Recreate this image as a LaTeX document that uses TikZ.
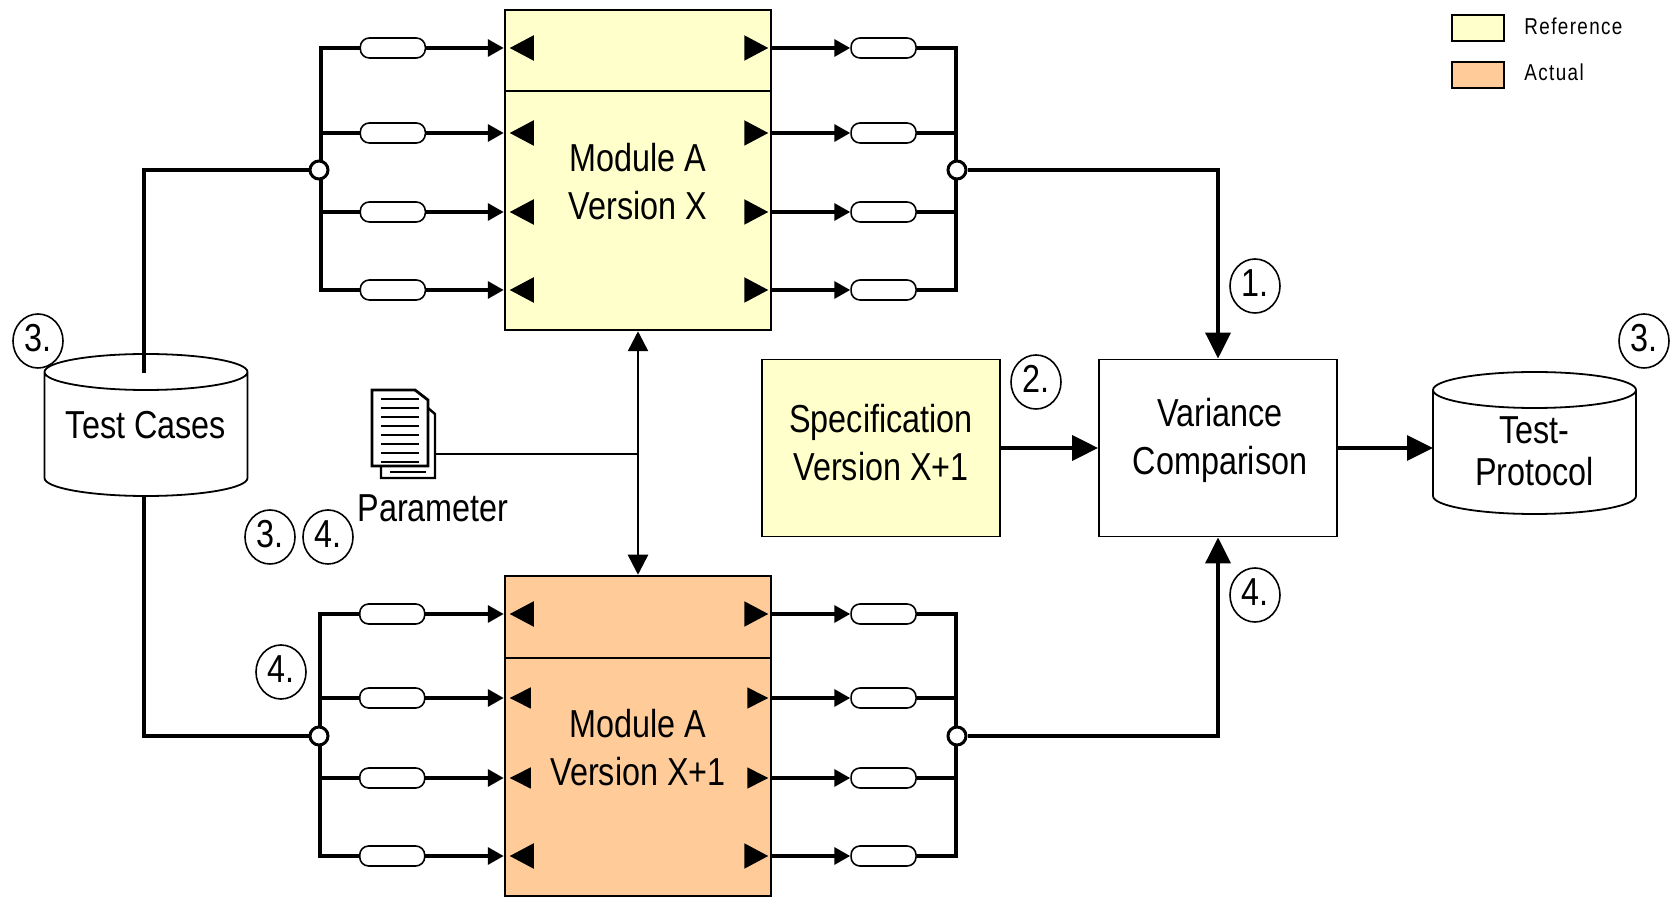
\documentclass[tikz,border=0pt]{standalone}
\usepackage{fontspec}
\setmainfont[FakeStretch=0.83]{Liberation Sans}
\newfontfamily\legendfont[FakeStretch=0.82,LetterSpace=6]{Liberation Sans}
\usetikzlibrary{arrows.meta,shapes.geometric}
\definecolor{refyellow}{RGB}{255,255,204}
\definecolor{actorange}{RGB}{255,204,153}

\begin{document}
\begin{tikzpicture}[x=0.5pt, y=-0.5pt,
  font=\fontsize{19.5}{24}\selectfont,
  >={Triangle[length=8pt, width=8.5pt]},
  block/.style={rectangle, draw, line width=1.25pt, align=center, inner sep=0pt},
  module/.style={block, minimum width=133pt, minimum height=160pt},
  wire/.style={line width=1.7pt},
  thinwire/.style={line width=1.3pt, >={Triangle[length=10pt, width=10pt]}},
  bigtip/.style={>={Triangle[length=13pt, width=12.5pt]}},
  pill/.style={rectangle, rounded corners=4.5pt, draw, fill=white, line width=0.8pt, minimum width=32.5pt, minimum height=10pt, inner sep=0pt},
  junction/.style={circle, draw, fill=white, line width=1.5pt, minimum size=9pt, inner sep=0pt},
  stepnum/.style={ellipse, draw, line width=0.8pt, minimum width=25pt, minimum height=27pt, inner sep=0pt, text depth=3pt},
  trileft/.style={isosceles triangle, isosceles triangle apex angle=56, fill=black, inner sep=0pt, outer sep=0pt, minimum height=12pt, shape border rotate=180, anchor=apex, xshift=3pt},
  triright/.style={isosceles triangle, isosceles triangle apex angle=56, fill=black, inner sep=0pt, outer sep=0pt, minimum height=12pt, anchor=apex, xshift=-2pt},
  small/.style={isosceles triangle apex angle=54, minimum height=10.5pt},
  store/.style={rectangle, inner sep=0pt, outer sep=0pt, minimum width=101.5pt, minimum height=71pt},
  storeline/.style={line width=0.9pt}]

  \useasboundingbox (0,0) rectangle (1672,898);

  % modules
  \node[module, fill=refyellow] (modX) at (638,170) {};
  \node[module, fill=actorange] (modY) at (638,736) {};
  \draw[line width=1.25pt] (modX.west |- 0,91) -- (modX.east |- 0,91);
  \draw[line width=1.25pt] (modY.west |- 0,658) -- (modY.east |- 0,658);
  \node[align=center] (labX) at (638,182) {Module A\\Version X};
  \node[align=center] (labY) at (638,748) {Module A\\Version X+1};

  % feed points of the buses
  \node[coordinate] (busXa) at (321,48) {};
  \node[coordinate] (busXb) at (321,133) {};
  \node[coordinate] (busXc) at (321,212) {};
  \node[coordinate] (busXd) at (321,290) {};
  \node[coordinate] (busYa) at (320,614) {};
  \node[coordinate] (busYb) at (320,698) {};
  \node[coordinate] (busYc) at (320,778) {};
  \node[coordinate] (busYd) at (320,856) {};
  \node[coordinate] (outX) at (956,48) {};
  \node[coordinate] (outY) at (956,614) {};

  % inputs
  \draw[wire,->] (busXa) -- node[pill, pos=0.393] (iXa) {} (busXa -| modX.west) node[trileft] (tiXa) {};
  \draw[wire,->] (busXb) -- node[pill, pos=0.393] (iXb) {} (busXb -| modX.west) node[trileft] (tiXb) {};
  \draw[wire,->] (busXc) -- node[pill, pos=0.393] (iXc) {} (busXc -| modX.west) node[trileft] (tiXc) {};
  \draw[wire,->] (busXd) -- node[pill, pos=0.393] (iXd) {} (busXd -| modX.west) node[trileft] (tiXd) {};
  \draw[wire,->] (busYa) -- node[pill, pos=0.393] (iYa) {} (busYa -| modY.west) node[trileft] (tiYa) {};
  \draw[wire,->] (busYb) -- node[pill, pos=0.393] (iYb) {} (busYb -| modY.west) node[trileft, small] (tiYb) {};
  \draw[wire,->] (busYc) -- node[pill, pos=0.393] (iYc) {} (busYc -| modY.west) node[trileft, small] (tiYc) {};
  \draw[wire,->] (busYd) -- node[pill, pos=0.393] (iYd) {} (busYd -| modY.west) node[trileft] (tiYd) {};

  % outputs
  \draw[wire,->] (modX.east |- busXa) node[triright] (toXa) {} -- ++(78,0) node[pill, anchor=west] (oXa) {};
  \draw[wire,->] (modX.east |- busXb) node[triright] (toXb) {} -- ++(78,0) node[pill, anchor=west] (oXb) {};
  \draw[wire,->] (modX.east |- busXc) node[triright] (toXc) {} -- ++(78,0) node[pill, anchor=west] (oXc) {};
  \draw[wire,->] (modX.east |- busXd) node[triright] (toXd) {} -- ++(78,0) node[pill, anchor=west] (oXd) {};
  \draw[wire,->] (modY.east |- busYa) node[triright] (toYa) {} -- ++(78,0) node[pill, anchor=west] (oYa) {};
  \draw[wire,->] (modY.east |- busYb) node[triright, small] (toYb) {} -- ++(78,0) node[pill, anchor=west] (oYb) {};
  \draw[wire,->] (modY.east |- busYc) node[triright, small] (toYc) {} -- ++(78,0) node[pill, anchor=west] (oYc) {};
  \draw[wire,->] (modY.east |- busYd) node[triright] (toYd) {} -- ++(78,0) node[pill, anchor=west] (oYd) {};

  % buses
  \draw[wire, line cap=rect] (busXa) -- (busXd);
  \draw[wire, line cap=rect] (busYa) -- (busYd);
  \draw[wire] (oXa) -| (oXd -| outX) -- (oXd);
  \draw[wire] (oXb) -- (oXb -| outX);
  \draw[wire] (oXc) -- (oXc -| outX);
  \draw[wire] (oYa) -| (oYd -| outY) -- (oYd);
  \draw[wire] (oYb) -- (oYb -| outY);
  \draw[wire] (oYc) -- (oYc -| outY);

  % stores and comparison
  \node[store] (tests) at (146,425) {};
  \node[store] (proto) at (1534.5,443) {};
  \draw[storeline] (tests.north west) ++(0,18) arc[start angle=180, end angle=-180, x radius=101.5, y radius=18]
    -- ++(0,106) arc[start angle=180, end angle=0, x radius=101.5, y radius=18] -- ++(0,-106);
  \draw[storeline] (proto.north west) ++(0,18) arc[start angle=180, end angle=-180, x radius=101.5, y radius=18]
    -- ++(0,106) arc[start angle=180, end angle=0, x radius=101.5, y radius=18] -- ++(0,-106);
  \node (labT) at (146,425) {Test Cases};
  \node[align=center] (labP) at (1534.5,451) {Test-\\[-3.2pt]Protocol};
  \node[block, fill=refyellow, line width=0.9pt, minimum width=119pt, minimum height=88.5pt] (spec) at (881,448) {};
  \node[block, line width=0.9pt, minimum width=119pt, minimum height=88.5pt] (comp) at (1218,448) {};
  \node[align=center] (labS) at (881,443) {Specification\\Version X+1};
  \node[align=center] (labC) at (1220,440) {Variance\\Comparison};

  % junctions and main paths
  \node[coordinate] (testsin) at (144,373) {};
  \node[coordinate] (testsout) at (144,496) {};
  \node[junction] (jXi) at (319,170) {};
  \node[junction] (jXo) at (957,170) {};
  \node[junction] (jYi) at (319,736) {};
  \node[junction] (jYo) at (957,736) {};
  \draw[wire] (testsin) |- (jXi);
  \draw[wire] (testsout) |- (jYi);
  \draw[wire,bigtip,->] (jXo) -| (comp.north);
  \draw[wire,bigtip,->] (jYo) -| (comp.south);
  \draw[wire,bigtip,->] (spec.east |- comp) -- (comp.west);
  \draw[wire,bigtip,->] (comp.east) -- (proto.west |- comp);

  % parameter files
  \draw[line width=1.2pt, fill=white] (428,408) -- (435,414) -- (435,478) -- (381,478) -- (381,460) -- cycle;
  \draw[line width=1.4pt, fill=white] (372,390) -- (415,390) -- (428,400) -- (428,466) -- (372,466) -- cycle;
  \draw[line width=0.6pt] (381,399) -- ++(38,0) (381,408) -- ++(38,0) (381,417) -- ++(38,0) (381,426) -- ++(38,0)
    (381,435) -- ++(38,0) (381,444) -- ++(38,0) (381,453) -- ++(38,0) (381,462) -- ++(38,0) (390,472) -- ++(36,0);
  \node[coordinate] (docout) at (436,454) {};
  \node[coordinate] (mid) at (638,454) {};
  \draw[thinwire] (docout) -- (mid);
  \draw[thinwire,<->] (modX.south) -- (modY.north);
  \node (param) at (433,508) {Parameter};

  % step numbers
  \node[stepnum] (s3a) at (38,341) {3.};
  \node[stepnum] (s1) at (1255,286) {1.};
  \node[stepnum] (s2) at (1036,382) {2.};
  \node[stepnum] (s3b) at (1644,341) {3.};
  \node[stepnum] (s3c) at (270,537) {3.};
  \node[stepnum] (s4a) at (328,537) {4.};
  \node[stepnum] (s4b) at (281,672) {4.};
  \node[stepnum] (s4c) at (1255,595) {4.};

  % legend
  \node[block, fill=refyellow, minimum width=26pt, minimum height=13pt] (legref) at (1478,28) {};
  \node[block, fill=actorange, minimum width=26pt, minimum height=13pt] (legact) at (1478,75) {};
  \node[anchor=west, font=\legendfont\fontsize{11.5}{14}\selectfont, inner sep=0pt] (txtref) at (1524,26) {Reference};
  \node[anchor=west, font=\legendfont\fontsize{11.5}{14}\selectfont, inner sep=0pt] (txtact) at (1524,72) {Actual};
\end{tikzpicture}
\end{document}
